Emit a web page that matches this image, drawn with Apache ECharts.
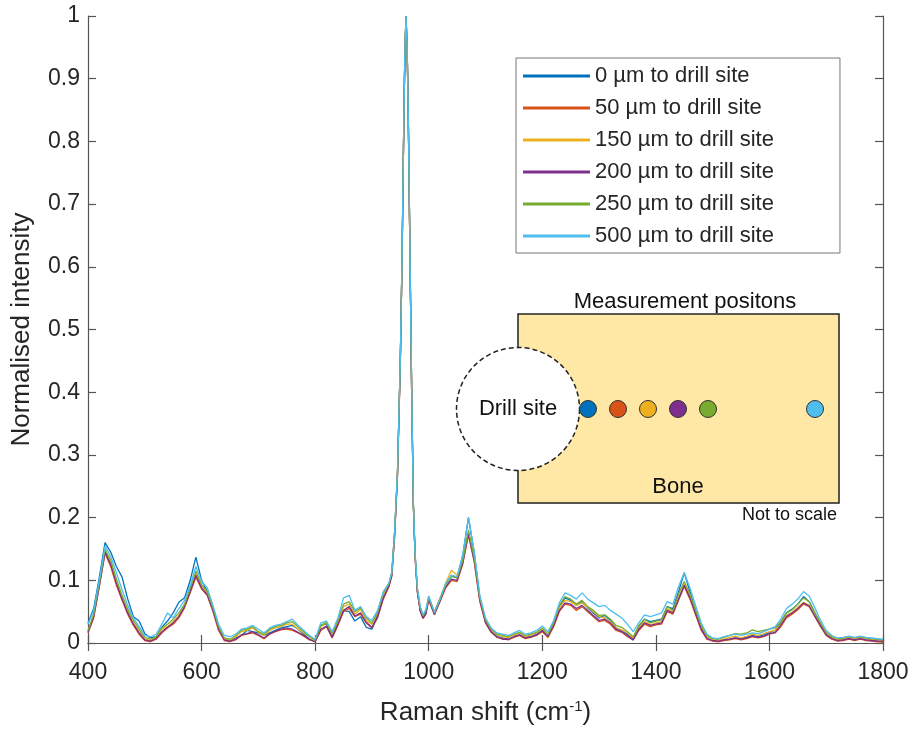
<!DOCTYPE html>
<html>
<head>
<meta charset="utf-8">
<title>Raman spectra vs distance to drill site</title>
<script src="https://cdn.jsdelivr.net/npm/echarts@6/dist/echarts.min.js"></script>
<style>
  html, body { margin: 0; padding: 0; background: #fff; }
  #chart { width: 912px; height: 731px; }
</style>
</head>
<body>
<div id="chart"></div>
<script>
// raman shift (cm-1), shared by all spectra
const shift = [
  400, 410, 420, 430, 440, 450, 460, 470, 480, 490, 500, 510, 520, 530, 540, 550, 560, 570, 580, 590,
  600, 610, 620, 630, 640, 650, 660, 670, 680, 690, 700, 710, 720, 730, 740, 750, 760, 770, 780, 790,
  800, 810, 820, 830, 840, 850, 860, 870, 880, 890, 900, 910, 920, 930,
  935, 940, 945, 950, 953, 956, 958, 960, 962, 964, 967, 970, 973, 976, 980, 985, 990, 995,
  1000, 1010, 1020, 1030, 1040, 1050, 1060, 1070, 1080, 1090, 1100, 1110, 1120, 1130, 1140, 1150, 1160, 1170, 1180, 1190,
  1200, 1210, 1220, 1230, 1240, 1250, 1260, 1270, 1280, 1290, 1300, 1310, 1320, 1330, 1340, 1350, 1360, 1370, 1380, 1390,
  1400, 1410, 1420, 1430, 1440, 1450, 1460, 1470, 1480, 1490, 1500, 1510, 1520, 1530, 1540, 1550, 1560, 1570, 1580, 1590,
  1600, 1610, 1620, 1630, 1640, 1650, 1660, 1670, 1680, 1690, 1700, 1710, 1720, 1730, 1740, 1750, 1760, 1770, 1780, 1790,
  1800
]

const labels = [
  '0 µm to drill site',
  '50 µm to drill site',
  '150 µm to drill site',
  '200 µm to drill site',
  '250 µm to drill site',
  '500 µm to drill site'
]
const colors = ['#0072BD', '#D95319', '#EDB120', '#7E2F8E', '#77AC30', '#4DBEEE']

// normalised intensity, one array per measurement position
const d0 = [
  0.032, 0.055, 0.105, 0.160, 0.145, 0.122, 0.105, 0.070, 0.042, 0.035, 0.015, 0.008, 0.010, 0.025, 0.035, 0.048, 0.065, 0.072, 0.100, 0.137,
  0.100, 0.082, 0.055, 0.022, 0.006, 0.004, 0.008, 0.012, 0.020, 0.018, 0.016, 0.012, 0.016, 0.020, 0.024, 0.026, 0.028, 0.022, 0.014, 0.006,
  0.002, 0.028, 0.030, 0.010, 0.030, 0.052, 0.050, 0.035, 0.042, 0.025, 0.022, 0.045, 0.078, 0.094,
  0.112, 0.178, 0.272, 0.452, 0.612, 0.822, 0.941, 1.000, 0.951, 0.842, 0.622, 0.402, 0.222, 0.141, 0.084, 0.052, 0.040, 0.048,
  0.074, 0.046, 0.068, 0.094, 0.108, 0.104, 0.140, 0.200, 0.145, 0.072, 0.034, 0.018, 0.010, 0.008, 0.006, 0.010, 0.013, 0.009, 0.010, 0.014,
  0.020, 0.010, 0.030, 0.058, 0.072, 0.068, 0.060, 0.066, 0.056, 0.048, 0.040, 0.044, 0.036, 0.024, 0.020, 0.014, 0.006, 0.026, 0.038, 0.034,
  0.036, 0.038, 0.058, 0.055, 0.082, 0.112, 0.082, 0.052, 0.024, 0.008, 0.004, 0.003, 0.005, 0.006, 0.008, 0.007, 0.009, 0.012, 0.010, 0.013,
  0.017, 0.020, 0.032, 0.048, 0.054, 0.062, 0.074, 0.066, 0.048, 0.030, 0.014, 0.007, 0.004, 0.005, 0.007, 0.005, 0.007, 0.005, 0.004, 0.003,
  0.002
]
const d50 = [
  0.016, 0.040, 0.090, 0.143, 0.122, 0.092, 0.068, 0.046, 0.028, 0.014, 0.004, 0.002, 0.006, 0.016, 0.024, 0.030, 0.040, 0.056, 0.080, 0.105,
  0.086, 0.076, 0.050, 0.020, 0.004, 0.002, 0.005, 0.012, 0.014, 0.016, 0.012, 0.007, 0.014, 0.018, 0.021, 0.022, 0.020, 0.016, 0.011, 0.005,
  0.002, 0.020, 0.026, 0.008, 0.028, 0.050, 0.055, 0.042, 0.046, 0.032, 0.024, 0.040, 0.070, 0.090,
  0.106, 0.170, 0.266, 0.447, 0.607, 0.818, 0.938, 1.000, 0.948, 0.838, 0.617, 0.397, 0.217, 0.137, 0.081, 0.051, 0.039, 0.046,
  0.068, 0.045, 0.066, 0.088, 0.100, 0.098, 0.126, 0.172, 0.130, 0.066, 0.032, 0.017, 0.009, 0.007, 0.005, 0.009, 0.012, 0.007, 0.009, 0.012,
  0.018, 0.009, 0.026, 0.050, 0.062, 0.060, 0.052, 0.058, 0.050, 0.042, 0.034, 0.036, 0.030, 0.020, 0.017, 0.010, 0.005, 0.020, 0.030, 0.026,
  0.029, 0.030, 0.050, 0.046, 0.068, 0.090, 0.070, 0.045, 0.020, 0.006, 0.003, 0.002, 0.004, 0.005, 0.007, 0.005, 0.007, 0.010, 0.008, 0.010,
  0.014, 0.016, 0.026, 0.040, 0.046, 0.053, 0.062, 0.058, 0.042, 0.026, 0.012, 0.006, 0.003, 0.004, 0.006, 0.004, 0.006, 0.004, 0.003, 0.002,
  0.002
]
const d150 = [
  0.018, 0.044, 0.094, 0.147, 0.128, 0.098, 0.072, 0.050, 0.032, 0.018, 0.006, 0.004, 0.009, 0.022, 0.026, 0.034, 0.044, 0.058, 0.084, 0.112,
  0.092, 0.078, 0.052, 0.024, 0.006, 0.004, 0.010, 0.018, 0.020, 0.024, 0.017, 0.012, 0.020, 0.024, 0.026, 0.030, 0.030, 0.022, 0.016, 0.010,
  0.004, 0.026, 0.032, 0.014, 0.034, 0.058, 0.062, 0.046, 0.054, 0.036, 0.030, 0.048, 0.078, 0.093,
  0.110, 0.176, 0.270, 0.450, 0.610, 0.820, 0.940, 1.000, 0.950, 0.840, 0.620, 0.400, 0.220, 0.140, 0.086, 0.056, 0.043, 0.051,
  0.073, 0.049, 0.072, 0.096, 0.116, 0.108, 0.132, 0.176, 0.134, 0.070, 0.036, 0.021, 0.013, 0.010, 0.009, 0.012, 0.016, 0.010, 0.013, 0.016,
  0.023, 0.008, 0.030, 0.056, 0.068, 0.066, 0.060, 0.064, 0.057, 0.050, 0.042, 0.040, 0.034, 0.024, 0.021, 0.016, 0.008, 0.024, 0.034, 0.029,
  0.032, 0.034, 0.054, 0.050, 0.072, 0.094, 0.074, 0.050, 0.026, 0.010, 0.005, 0.004, 0.006, 0.009, 0.011, 0.008, 0.011, 0.014, 0.012, 0.015,
  0.018, 0.020, 0.030, 0.044, 0.049, 0.057, 0.065, 0.060, 0.044, 0.030, 0.015, 0.008, 0.005, 0.007, 0.009, 0.007, 0.009, 0.007, 0.006, 0.005,
  0.004
]
const d200 = [
  0.017, 0.042, 0.092, 0.145, 0.125, 0.095, 0.070, 0.048, 0.030, 0.016, 0.005, 0.003, 0.007, 0.018, 0.025, 0.032, 0.042, 0.058, 0.082, 0.108,
  0.088, 0.077, 0.052, 0.022, 0.005, 0.003, 0.006, 0.013, 0.015, 0.018, 0.013, 0.008, 0.015, 0.019, 0.022, 0.024, 0.022, 0.017, 0.012, 0.006,
  0.002, 0.022, 0.027, 0.009, 0.030, 0.052, 0.058, 0.043, 0.048, 0.033, 0.025, 0.042, 0.072, 0.091,
  0.108, 0.172, 0.268, 0.448, 0.608, 0.819, 0.939, 1.000, 0.949, 0.839, 0.618, 0.398, 0.218, 0.138, 0.082, 0.052, 0.040, 0.047,
  0.070, 0.046, 0.068, 0.090, 0.102, 0.100, 0.128, 0.174, 0.132, 0.068, 0.033, 0.018, 0.010, 0.006, 0.006, 0.010, 0.013, 0.008, 0.010, 0.013,
  0.020, 0.010, 0.028, 0.052, 0.064, 0.062, 0.055, 0.060, 0.052, 0.044, 0.036, 0.038, 0.032, 0.022, 0.018, 0.012, 0.005, 0.022, 0.032, 0.028,
  0.030, 0.032, 0.052, 0.048, 0.070, 0.092, 0.072, 0.047, 0.022, 0.007, 0.004, 0.003, 0.005, 0.006, 0.008, 0.006, 0.008, 0.011, 0.009, 0.011,
  0.015, 0.017, 0.028, 0.042, 0.048, 0.055, 0.064, 0.059, 0.043, 0.028, 0.013, 0.007, 0.004, 0.005, 0.007, 0.005, 0.007, 0.005, 0.004, 0.003,
  0.003
]
const d250 = [
  0.020, 0.046, 0.096, 0.150, 0.132, 0.102, 0.076, 0.054, 0.036, 0.022, 0.009, 0.006, 0.010, 0.024, 0.030, 0.038, 0.048, 0.062, 0.088, 0.115,
  0.093, 0.082, 0.056, 0.026, 0.008, 0.006, 0.012, 0.020, 0.022, 0.026, 0.018, 0.014, 0.022, 0.026, 0.028, 0.032, 0.034, 0.026, 0.018, 0.010,
  0.004, 0.028, 0.033, 0.015, 0.036, 0.062, 0.066, 0.050, 0.056, 0.040, 0.032, 0.050, 0.080, 0.095,
  0.112, 0.177, 0.271, 0.451, 0.611, 0.821, 0.940, 1.000, 0.950, 0.841, 0.621, 0.401, 0.221, 0.141, 0.087, 0.057, 0.044, 0.052,
  0.073, 0.050, 0.071, 0.093, 0.106, 0.104, 0.132, 0.180, 0.137, 0.072, 0.037, 0.022, 0.014, 0.012, 0.010, 0.014, 0.017, 0.012, 0.014, 0.017,
  0.024, 0.014, 0.033, 0.060, 0.074, 0.070, 0.062, 0.068, 0.058, 0.052, 0.044, 0.045, 0.038, 0.028, 0.025, 0.018, 0.010, 0.028, 0.038, 0.032,
  0.035, 0.037, 0.058, 0.052, 0.078, 0.098, 0.078, 0.053, 0.028, 0.012, 0.007, 0.006, 0.009, 0.012, 0.015, 0.014, 0.016, 0.021, 0.018, 0.020,
  0.022, 0.024, 0.034, 0.048, 0.053, 0.062, 0.072, 0.066, 0.048, 0.032, 0.017, 0.010, 0.007, 0.008, 0.010, 0.008, 0.010, 0.008, 0.007, 0.006,
  0.005
]
const d500 = [
  0.030, 0.052, 0.100, 0.155, 0.138, 0.112, 0.085, 0.060, 0.040, 0.026, 0.012, 0.010, 0.014, 0.030, 0.048, 0.040, 0.055, 0.068, 0.092, 0.122,
  0.098, 0.088, 0.060, 0.030, 0.012, 0.010, 0.014, 0.022, 0.024, 0.028, 0.022, 0.016, 0.024, 0.028, 0.030, 0.034, 0.038, 0.028, 0.020, 0.012,
  0.006, 0.032, 0.035, 0.018, 0.040, 0.072, 0.076, 0.052, 0.058, 0.042, 0.036, 0.052, 0.082, 0.096,
  0.113, 0.178, 0.273, 0.453, 0.613, 0.823, 0.942, 1.000, 0.952, 0.843, 0.623, 0.403, 0.223, 0.143, 0.088, 0.058, 0.045, 0.053,
  0.075, 0.048, 0.070, 0.095, 0.108, 0.106, 0.140, 0.200, 0.146, 0.076, 0.040, 0.024, 0.016, 0.014, 0.012, 0.016, 0.020, 0.014, 0.016, 0.020,
  0.027, 0.018, 0.036, 0.064, 0.080, 0.076, 0.070, 0.080, 0.070, 0.064, 0.058, 0.060, 0.052, 0.046, 0.040, 0.030, 0.018, 0.032, 0.045, 0.042,
  0.045, 0.048, 0.066, 0.062, 0.090, 0.112, 0.088, 0.060, 0.032, 0.014, 0.008, 0.007, 0.010, 0.012, 0.014, 0.012, 0.014, 0.016, 0.015, 0.018,
  0.022, 0.026, 0.038, 0.055, 0.062, 0.070, 0.082, 0.075, 0.056, 0.036, 0.020, 0.012, 0.008, 0.009, 0.011, 0.009, 0.011, 0.009, 0.008, 0.007,
  0.006
]
const spectra = [d0, d50, d150, d200, d250, d500]

const font = "'Liberation Sans', Arial, Helvetica, sans-serif"
const axisColor = '#555'
const textColor = '#262626'

const series = spectra.map((vals, i) => ({
  name: labels[i],
  type: 'line',
  symbol: 'none',
  lineStyle: { width: 1.3, color: colors[i] },
  itemStyle: { color: colors[i] },
  data: vals.map((v, j) => [shift[j], v])
}))

// sketch of where the spectra were taken (not to scale)
const inset = [
  {
    type: 'rect',
    shape: { x: 518, y: 314, width: 321, height: 189 },
    style: { fill: '#FFE8A5', stroke: '#222', lineWidth: 1.5 }
  },
  {
    type: 'circle',
    shape: { cx: 518, cy: 409, r: 61.5 },
    style: { fill: '#fff', stroke: '#222', lineWidth: 1.5, lineDash: [5, 3] }
  },
  ...colors.map((c, i) => ({
    type: 'circle',
    shape: { cx: [588, 618, 648, 678, 708, 815][i], cy: 409, r: 8.5 },
    style: { fill: c, stroke: '#333', lineWidth: 1 }
  })),
  ...[
    ['Measurement positons', 685, 302, 22, 'center'],
    ['Drill site', 518, 409, 22, 'center'],
    ['Bone', 678, 487, 22, 'center'],
    ['Not to scale', 837, 515, 18, 'right']
  ].map(([t, x, y, size, al]) => ({
    type: 'text',
    style: {
      text: t, x: x, y: y,
      fontSize: size, fontFamily: font, fill: '#111',
      align: al, textAlign: al,
      verticalAlign: 'middle', textVerticalAlign: 'middle'
    }
  }))
]

const boxAxis = {
  type: 'value',
  axisLine: { show: true, lineStyle: { color: axisColor, width: 1.2 } },
  axisTick: { show: true, inside: true, length: 8, lineStyle: { color: axisColor, width: 1.2 } },
  splitLine: { show: false }
}

const option = {
  animation: false,
  backgroundColor: '#fff',
  textStyle: { fontFamily: font },
  grid: { left: 88, right: 29, top: 16, bottom: 88 },
  legend: {
    orient: 'vertical',
    left: 516,
    top: 58,
    padding: [7, 66, 6, 7],
    itemWidth: 67,
    itemHeight: 3,
    itemGap: 10,
    icon: 'rect',
    borderColor: '#777',
    borderWidth: 1,
    backgroundColor: '#fff',
    textStyle: { fontSize: 22, color: textColor, fontFamily: font },
    data: labels
  },
  xAxis: [
    Object.assign({}, boxAxis, {
      position: 'bottom',
      min: 400, max: 1800, interval: 200,
      axisLabel: { fontSize: 23, color: textColor, margin: 18, fontFamily: font, formatter: v => String(v) },
      name: 'Raman shift (cm{sup|-1})',
      nameLocation: 'middle',
      nameGap: 56,
      nameTextStyle: {
        fontSize: 26, color: textColor, fontFamily: font,
        rich: { sup: { fontSize: 15, color: textColor, fontFamily: font, verticalAlign: 'top', padding: [0, 0, 12, 0] } }
      }
    }),
    Object.assign({}, boxAxis, {
      position: 'top',
      min: 400, max: 1800, interval: 200,
      axisLabel: { show: false }
    })
  ],
  yAxis: [
    Object.assign({}, boxAxis, {
      position: 'left',
      min: 0, max: 1, interval: 0.1,
      axisLabel: { fontSize: 23, color: textColor, margin: 8, fontFamily: font },
      name: 'Normalised intensity',
      nameLocation: 'middle',
      nameGap: 53,
      nameTextStyle: { fontSize: 26, color: textColor, fontFamily: font }
    }),
    Object.assign({}, boxAxis, {
      position: 'right',
      min: 0, max: 1, interval: 0.1,
      axisLabel: { show: false }
    })
  ],
  graphic: inset,
  series: series
}

const chart = echarts.init(document.getElementById('chart'), null, { renderer: 'canvas' })
chart.setOption(option)
</script>
</body>
</html>
